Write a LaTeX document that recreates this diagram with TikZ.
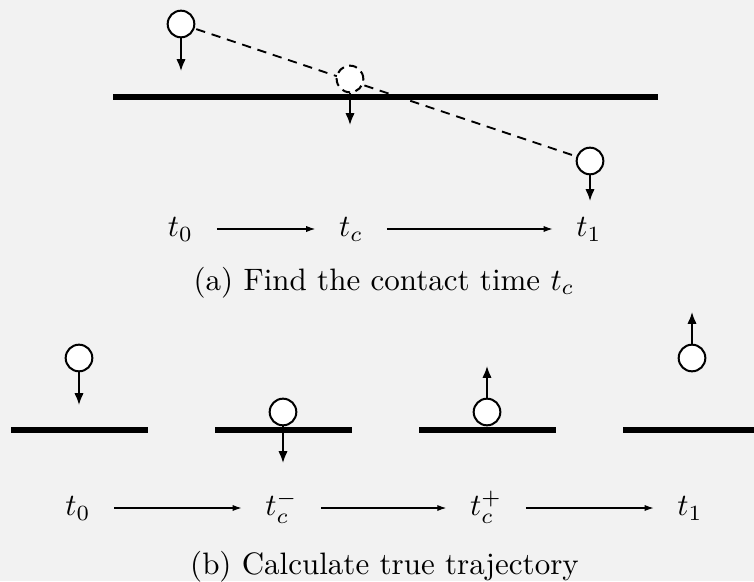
\documentclass[tikz,border=0pt]{standalone}
\usetikzlibrary{arrows.meta}
\tikzstyle{ball} = [circle, draw=black, fill=white, line width=0.65pt, minimum size=8.6pt, inner sep=0pt]
\tikzstyle{ground} = [line width=2.1pt]
\tikzstyle{vel} = [line width=0.55pt, -{Latex[length=3.8pt,width=3pt]}]
\tikzstyle{arrow} = [line width=0.35pt, -{Latex[length=2.9pt,width=2pt]}]
\tikzstyle{tlabel} = [text height=6pt, text depth=1pt, inner xsep=7.5pt]

\begin{document}
\begin{tikzpicture}[x=0.3226pt, y=-0.3226pt]
    \useasboundingbox (0,0) rectangle (754,581);
    \fill [black!5] (0,0) rectangle (754,581);

    % (a) contact time
    \coordinate (p0) at (181,24);
    \coordinate (pc) at (350,79);
    \coordinate (p1) at (590,161);
    \draw [dash pattern=on 3pt off 2.2pt, line width=0.6pt] (p0) -- (p1);
    \draw [ground] (113,97) -- (658,97);
    \node (a0) [ball] at (p0) {};
    \node (ac) [ball, dash pattern=on 2.6pt off 1.8pt] at (pc) {};
    \node (a1) [ball] at (p1) {};
    \coordinate (va0) at (181,71);
    \coordinate (vac) at (350,125);
    \coordinate (va1) at (590,201);
    \draw [vel] (a0) -- (va0);
    \draw [vel] (ac) -- (vac);
    \draw [vel] (a1) -- (va1);

    \node (ta0) [tlabel] at (180.5,229) {$t_0$};
    \node (tac) [tlabel] at (351,229) {$t_c$};
    \node (ta1) [tlabel] at (589,229) {$t_1$};
    \draw [arrow] (ta0) -- (tac);
    \draw [arrow] (tac) -- (ta1);
    \node (capa) [anchor=base] at (384,290) {(a) Find the contact time $t_c$};

    % (b) true trajectory
    \draw [ground] (11,430) -- (148,430);
    \draw [ground] (215,430) -- (352,430);
    \draw [ground] (419,430) -- (556,430);
    \draw [ground] (623,430) -- (754,430);
    \node (b0) [ball] at (79,358) {};
    \node (bm) [ball] at (283,412) {};
    \node (bp) [ball] at (487,412) {};
    \node (b1) [ball] at (692,358) {};
    \coordinate (vb0) at (79,405);
    \coordinate (vbm) at (283,463);
    \coordinate (vbp) at (487,366);
    \coordinate (vb1) at (692,312);
    \draw [vel] (b0) -- (vb0);
    \draw [vel] (bm) -- (vbm);
    \draw [vel] (bp) -- (vbp);
    \draw [vel] (b1) -- (vb1);

    \node (tb0) [tlabel] at (78,508) {$t_0$};
    \node (tbm) [tlabel] at (281.5,508) {$t_c^-$};
    \node (tbp) [tlabel] at (486,508) {$t_c^+$};
    \node (tb1) [tlabel] at (690,508) {$t_1$};
    \draw [arrow] (tb0) -- (tbm);
    \draw [arrow] (tbm) -- (tbp);
    \draw [arrow] (tbp) -- (tb1);
    \node (capb) [anchor=base] at (384.5,574.5) {(b) Calculate true trajectory};
\end{tikzpicture}
\end{document}
